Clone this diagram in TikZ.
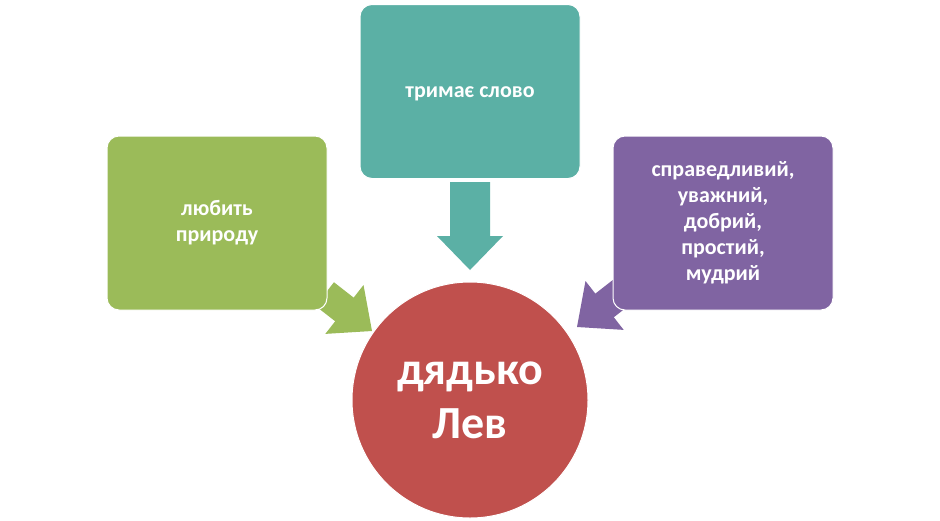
\documentclass[tikz,border=0pt]{standalone}
\usepackage{fontspec}
\setmainfont{Carlito}
\definecolor{cgreen}{HTML}{9BBB59}
\definecolor{cteal}{HTML}{5BB0A5}
\definecolor{cpurple}{HTML}{8064A2}
\definecolor{cred}{HTML}{C0504D}
\begin{document}
\begin{tikzpicture}[x=1pt,y=-1pt,
  boxs/.style={rounded corners=12pt,minimum width=220pt,minimum height=174pt,text=white,font=\bfseries\fontsize{22}{26}\selectfont,align=center,inner sep=4pt,draw=white,line width=1pt},
  blockarrow/.pic={\fill[pic actions] (-60,-15) -- (-35,-15) -- (-35,-31) -- (0,0) -- (-35,31) -- (-35,15) -- (-60,15) -- cycle;}]
\useasboundingbox[fill=white] (0,0) rectangle (940,520);
% arrows
\pic[fill=cgreen,rotate=-38] at (372,331) {blockarrow};
\pic[fill=cpurple,rotate=-142] at (577,327) {blockarrow};
\fill[cteal] (450,182) -- (490,182) -- (490,236) -- (503,236) -- (470,270) -- (437,236) -- (450,236) -- cycle;
\node[boxs,fill=cgreen] (g) at (217,223) {любить\\природу};
\node[boxs,fill=cteal,anchor=north] (t) at (470,4) {};
\node[text=white,font=\bfseries\fontsize{22}{26}\selectfont] (tt) at (470,94) {тримає слово};
\node[boxs,fill=cpurple] (p) at (723,223) {справедливий,\\уважний,\\добрий,\\простий,\\мудрий};
\node[circle,fill=cred,draw=white,line width=1pt,minimum size=236pt,text=white,font=\bfseries\fontsize{46}{54}\selectfont,align=center] (c) at (470,400) {дядько\\Лев};
\end{tikzpicture}
\end{document}
